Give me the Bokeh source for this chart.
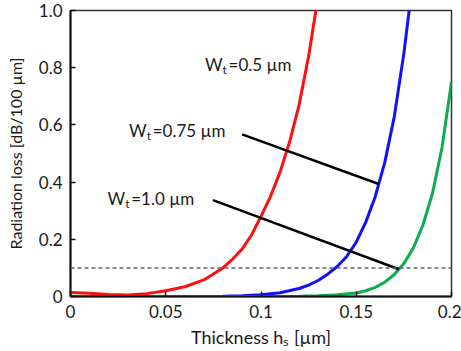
import numpy as np
from bokeh.plotting import figure
from bokeh.models import Span, FixedTicker
from bokeh.core.properties import value
from bokeh.embed import file_html
from bokeh.resources import INLINE

# Radiation loss [dB/100 um] versus slab thickness h_s [um] for three taper widths
red_x = [0, 0.01, 0.02, 0.03, 0.04, 0.05, 0.06, 0.07, 0.08, 0.085, 0.09, 0.095,
         0.1, 0.105, 0.11, 0.115, 0.12, 0.125, 0.13]
red_y = [0.014, 0.011, 0.007, 0.005, 0.010, 0.020, 0.034, 0.058, 0.10, 0.13, 0.165,
         0.215, 0.28, 0.35, 0.435, 0.54, 0.67, 0.84, 1.05]

blue_x = [0, 0.05, 0.08, 0.09, 0.1, 0.11, 0.12, 0.125, 0.13, 0.135, 0.14, 0.145,
          0.15, 0.155, 0.16, 0.165, 0.17, 0.175, 0.18]
blue_y = [0, 0, 0.001, 0.003, 0.006, 0.013, 0.028, 0.04, 0.056, 0.078, 0.105, 0.14,
          0.19, 0.26, 0.35, 0.47, 0.63, 0.85, 1.12]

green_x = [0, 0.1, 0.12, 0.13, 0.14, 0.15, 0.155, 0.16, 0.165, 0.17, 0.175, 0.18,
           0.185, 0.19, 0.195, 0.2]
green_y = [0, 0, 0.001, 0.003, 0.006, 0.012, 0.02, 0.032, 0.05, 0.077, 0.115, 0.17,
           0.25, 0.36, 0.52, 0.75]

loss_limit = 0.1

x_ticks = [0, 0.05, 0.1, 0.15, 0.2]
x_tick_labels = ["0", "0.05", "0.1", "0.15", "0.2"]
y_ticks = [0, 0.2, 0.4, 0.6, 0.8, 1.0]
y_tick_labels = ["0", "0.2", "0.4", "0.6", "0.8", "1.0"]

# curve labels: width value, anchor (right edge of "W", baseline)
label_widths = ["0.5", "0.75", "1.0"]
label_x = [0.0798, 0.0400, 0.0287]
label_y = [0.812, 0.582, 0.341]

# leader lines start near the labels and end on the blue / green curves
leader_start_x = [0.0901, 0.0748]
leader_start_y = [0.567, 0.337]
leader_end_x = [0.1618, 0.1724]

FONT = "Lato"
TXT = "#1a1a1a"
PX_X = 1900   # screen px per x unit (approx.)
PX_Y = 287    # screen px per y unit (approx.)

p = figure(width=461, height=351, x_range=(0, 0.2), y_range=(0, 1.0),
           output_backend="svg", toolbar_location=None,
           min_border_left=70, min_border_right=10, min_border_top=10,
           min_border_bottom=55)
p.grid.visible = False
p.outline_line_color = "#333333"
p.outline_line_width = 1.5

for ax in (p.xaxis[0], p.yaxis[0]):
    ax.axis_line_width = 2
    ax.axis_line_color = "#111111"
    ax.major_tick_in = 5
    ax.major_tick_out = 0
    ax.minor_tick_line_color = None
    ax.major_tick_line_color = "#111111"
    ax.major_tick_line_width = 1.5
    ax.major_label_text_font = FONT
    ax.major_label_text_font_size = "17px"
    ax.major_label_text_color = TXT
    ax.axis_label_text_font = FONT
    ax.axis_label_text_font_style = "normal"
    ax.axis_label_text_color = TXT

p.xaxis.ticker = FixedTicker(ticks=x_ticks)
p.xaxis.major_label_overrides = dict(zip(x_ticks, x_tick_labels))
p.xaxis.major_label_standoff = 8
p.xaxis.axis_label = "Thickness hₛ [µm]"
p.xaxis.axis_label_text_font_size = "18px"
p.xaxis.axis_label_standoff = 5

p.yaxis.ticker = FixedTicker(ticks=y_ticks)
p.yaxis.major_label_overrides = dict(zip(y_ticks, y_tick_labels))
p.yaxis.major_label_standoff = 8
p.yaxis.axis_label = "Radiation loss [dB/100 µm]"
p.yaxis.axis_label_text_font_size = "16px"
p.yaxis.axis_label_standoff = 11

# threshold line
p.add_layout(Span(location=loss_limit, dimension="width", line_color="#666666",
                  line_width=1.5, line_dash="4 3"))

p.line(red_x, red_y, line_color="#ff1010", line_width=3)
p.line(blue_x, blue_y, line_color="#1010ff", line_width=3)
p.line(green_x, green_y, line_color="#10aa55", line_width=3)

# leader lines
leader_end_y = [float(np.interp(leader_end_x[0], blue_x, blue_y)),
                float(np.interp(leader_end_x[1], green_x, green_y))]
for i in range(2):
    p.line([leader_start_x[i], leader_end_x[i]], [leader_start_y[i], leader_end_y[i]],
           line_color="black", line_width=2.5)

# curve labels "W_t=... µm"
sub_drop = 5 / PX_Y
for w, lx, ly in zip(label_widths, label_x, label_y):
    p.text([lx], [ly], text=["W"], text_align="right", text_baseline="alphabetic",
           text_font=value(FONT), text_font_size="17px", text_color=TXT)
    p.text([lx], [ly - sub_drop], text=["t"], text_align="left",
           text_baseline="alphabetic", text_font=value(FONT),
           text_font_size="12px", text_color=TXT)
    p.text([lx + 6 / PX_X], [ly], text=["=" + w + " µm"], text_align="left",
           text_baseline="alphabetic", text_font=value(FONT),
           text_font_size="17px", text_color=TXT)

open("out.html", "w").write(file_html(p, INLINE))
